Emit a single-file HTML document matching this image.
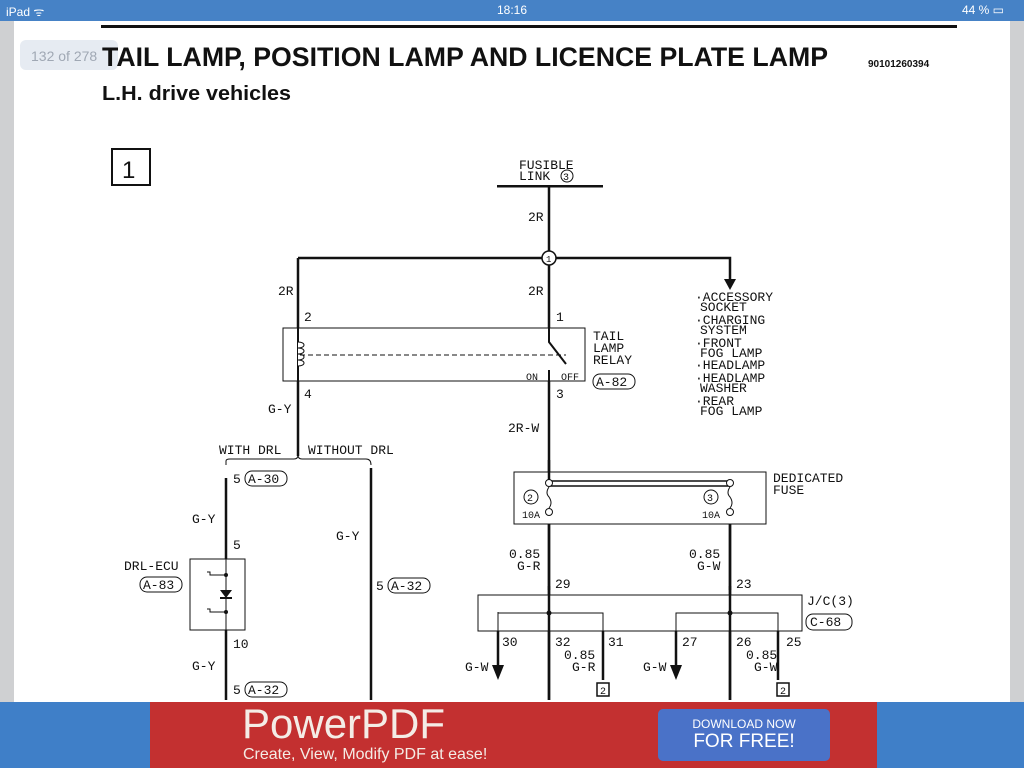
<!DOCTYPE html>
<html><head><style>
body{margin:0;width:1024px;height:768px;overflow:hidden;background:#cfd0d2;font-family:"Liberation Sans",sans-serif;position:relative}
#sb{position:absolute;left:0;top:0;width:1024px;height:21px;background:#4682c6;color:#fff;font-size:12px}
#pg{position:absolute;left:14px;top:21px;width:996px;height:681px;background:#fff}
#ad{position:absolute;left:0;top:702px;width:1024px;height:66px;background:#3f7fc8}
#red{position:absolute;left:150px;top:0;width:727px;height:66px;background:#c33030}
svg text{font-family:"Liberation Mono",monospace;font-size:13px;fill:#111}
</style></head><body>
<div id="sb"><span style="position:absolute;left:6px;top:3px">iPad ᯤ</span><span style="position:absolute;left:497px;top:3px">18:16</span><span style="position:absolute;left:962px;top:3px">44 % ▭</span></div>
<div id="pg"></div>
<svg style="position:absolute;left:0;top:0" width="1024" height="702">
<rect x="101" y="25" width="856" height="3" fill="#111"/>
<rect x="20" y="40" width="98" height="30" rx="6" fill="#e6ebf2"/>
<text x="31" y="61" style="font-family:'Liberation Sans';font-size:14px;fill:#a0a8b4">132 of 278</text>
<text x="102" y="66" textLength="726" lengthAdjust="spacingAndGlyphs" style="font-family:'Liberation Sans';font-size:27px;font-weight:bold">TAIL LAMP, POSITION LAMP AND LICENCE PLATE LAMP</text>
<text x="868" y="67" style="font-family:'Liberation Sans';font-size:10px;font-weight:bold">90101260394</text>
<text x="102" y="100" textLength="189" lengthAdjust="spacingAndGlyphs" style="font-family:'Liberation Sans';font-size:20px;font-weight:bold">L.H. drive vehicles</text>
<rect x="112" y="149" width="38" height="36" fill="none" stroke="#111" stroke-width="2"/>
<text x="122" y="178" style="font-family:'Liberation Sans';font-size:24px">1</text>
<text x="519" y="169">FUSIBLE</text><text x="519" y="180">LINK</text>
<circle cx="567" cy="176" r="6" fill="none" stroke="#111"/><text x="563" y="180" style="font-size:10px">3</text>
<rect x="497" y="185" width="106" height="2.5" fill="#111"/>
<g stroke="#111" stroke-width="2.5" fill="none">
<path d="M549 186V700M298 258H730V280M298 258V456M730 483V700M371 468V700M226 478V560M226 604V700"/>
<path d="M498 612V665M603 612V680M676 612V665M778 612V680"/>
</g>
<path d="M724 279L736 279L730 290Z" fill="#111"/>
<path d="M492 665L504 665L498 680Z M670 665L682 665L676 680Z" fill="#111"/>
<circle cx="549" cy="258" r="7" fill="#fff" stroke="#111" stroke-width="1.5"/><text x="546" y="262" style="font-size:9px">1</text>
<text x="528" y="221">2R</text><text x="278" y="295">2R</text><text x="528" y="295">2R</text>
<text x="304" y="321">2</text><text x="556" y="321">1</text>
<rect x="283" y="328" width="302" height="53" fill="#fff" stroke="#111"/>
<path d="M298 328V381M549 328V342L566 364M549 370V381" stroke="#111" stroke-width="2" fill="none"/>
<path d="M298 342c8 0 8 6 0 6c8 0 8 6 0 6c8 0 8 6 0 6c8 0 8 6 0 6" stroke="#111" fill="#fff"/>
<path d="M300 355H566" stroke="#111" stroke-dasharray="5,3"/>
<text x="526" y="380" style="font-size:10px">ON</text><text x="561" y="380" style="font-size:10px">OFF</text>
<text x="304" y="398">4</text><text x="556" y="398">3</text>
<text x="593" y="340">TAIL</text><text x="593" y="352">LAMP</text><text x="593" y="364">RELAY</text>
<rect x="593" y="374" width="42" height="15" rx="7" fill="none" stroke="#111"/><text x="596" y="386">A-82</text>
<g style="font-size:11px"><text x="695" y="301">·ACCESSORY</text><text x="700" y="311">SOCKET</text><text x="695" y="324">·CHARGING</text><text x="700" y="334">SYSTEM</text><text x="695" y="347">·FRONT</text><text x="700" y="357">FOG LAMP</text><text x="695" y="369">·HEADLAMP</text><text x="695" y="382">·HEADLAMP</text><text x="700" y="392">WASHER</text><text x="695" y="405">·REAR</text><text x="700" y="415">FOG LAMP</text></g>
<text x="268" y="413">G-Y</text><text x="508" y="432">2R-W</text>
<text x="219" y="454">WITH DRL</text><text x="308" y="454">WITHOUT DRL</text>
<path d="M226 465V461Q226 459 230 459H294Q298 459 298 455Q298 459 302 459H366Q371 459 371 465" stroke="#111" fill="none"/>
<text x="233" y="483">5</text><rect x="245" y="471" width="42" height="15" rx="7" fill="none" stroke="#111"/><text x="248" y="483">A-30</text>
<text x="192" y="523">G-Y</text><text x="233" y="549">5</text><text x="336" y="540">G-Y</text>
<text x="124" y="570">DRL-ECU</text><rect x="140" y="577" width="42" height="15" rx="7" fill="none" stroke="#111"/><text x="143" y="589">A-83</text>
<rect x="190" y="559" width="55" height="71" fill="#fff" stroke="#111"/>
<path d="M226 559V630" stroke="#111"/>
<path d="M220 590H232L226 598Z" fill="#111"/><path d="M220 598H232" stroke="#111" stroke-width="2"/>
<circle cx="226" cy="575" r="2" fill="#111"/><circle cx="226" cy="612" r="2" fill="#111"/>
<path d="M207 572h3v3h16M207 609h3v3h16" stroke="#111" fill="none"/>
<text x="233" y="648">10</text><text x="192" y="670">G-Y</text>
<text x="233" y="694">5</text><rect x="245" y="682" width="42" height="15" rx="7" fill="none" stroke="#111"/><text x="248" y="694">A-32</text>
<text x="376" y="590">5</text><rect x="388" y="578" width="42" height="15" rx="7" fill="none" stroke="#111"/><text x="391" y="590">A-32</text>
<rect x="514" y="472" width="252" height="52" fill="#fff" stroke="#111"/>
<path d="M549 460V483M549 524V590M730 524V590" stroke="#111" stroke-width="2.5"/>
<path d="M549 481H730M549 486H730" stroke="#111" stroke-width="1.5"/>
<circle cx="549" cy="483" r="3.5" fill="#fff" stroke="#111"/><circle cx="730" cy="483" r="3.5" fill="#fff" stroke="#111"/>
<circle cx="549" cy="512" r="3.5" fill="#fff" stroke="#111"/><circle cx="730" cy="512" r="3.5" fill="#fff" stroke="#111"/>
<path d="M549 487q-4 6 0 10q4 6 0 11M730 487q-4 6 0 10q4 6 0 11" stroke="#111" fill="none"/>
<circle cx="531" cy="497" r="7" fill="none" stroke="#111"/><text x="527" y="501" style="font-size:10px">2</text>
<circle cx="711" cy="497" r="7" fill="none" stroke="#111"/><text x="707" y="501" style="font-size:10px">3</text>
<text x="522" y="518" style="font-size:10px">10A</text><text x="702" y="518" style="font-size:10px">10A</text>
<text x="773" y="482">DEDICATED</text><text x="773" y="494">FUSE</text>
<text x="509" y="558">0.85</text><text x="517" y="570">G-R</text><text x="689" y="558">0.85</text><text x="697" y="570">G-W</text>
<text x="555" y="588">29</text><text x="736" y="588">23</text>
<rect x="478" y="595" width="324" height="36" fill="#fff" stroke="#111"/>
<path d="M549 586V700M730 586V700" stroke="#111" stroke-width="2.5"/>
<path d="M498 612V631M498 613H603V631M676 631V613H778V631" stroke="#111" fill="none"/>
<circle cx="549" cy="613" r="2.5" fill="#111"/><circle cx="730" cy="613" r="2.5" fill="#111"/>
<text x="807" y="605">J/C(3)</text><rect x="806" y="614" width="46" height="16" rx="7" fill="none" stroke="#111"/><text x="810" y="626">C-68</text>
<text x="502" y="646">30</text><text x="555" y="646">32</text><text x="608" y="646">31</text><text x="682" y="646">27</text><text x="736" y="646">26</text><text x="786" y="646">25</text>
<text x="465" y="671">G-W</text><text x="643" y="671">G-W</text>
<text x="564" y="659">0.85</text><text x="572" y="671">G-R</text><text x="746" y="659">0.85</text><text x="754" y="671">G-W</text>
<rect x="597" y="683" width="12" height="13" fill="#fff" stroke="#111" stroke-width="1.5"/><text x="600" y="694" style="font-size:10px">2</text>
<rect x="777" y="683" width="12" height="13" fill="#fff" stroke="#111" stroke-width="1.5"/><text x="780" y="694" style="font-size:10px">2</text>
</svg>
<div id="ad"><div id="red">
<div style="position:absolute;left:92px;top:-2px;font-size:42px;color:#f4ece6">PowerPDF</div>
<div style="position:absolute;left:93px;top:44px;font-size:16px;color:#f4ece6">Create, View, Modify PDF at ease!</div>
<div style="position:absolute;left:508px;top:7px;width:172px;height:52px;background:#4a72c8;border-radius:5px;color:#fff;text-align:center">
<div style="font-size:12px;margin-top:8px">DOWNLOAD NOW</div><div style="font-size:19px">FOR FREE!</div></div>
</div></div>
</body></html>
